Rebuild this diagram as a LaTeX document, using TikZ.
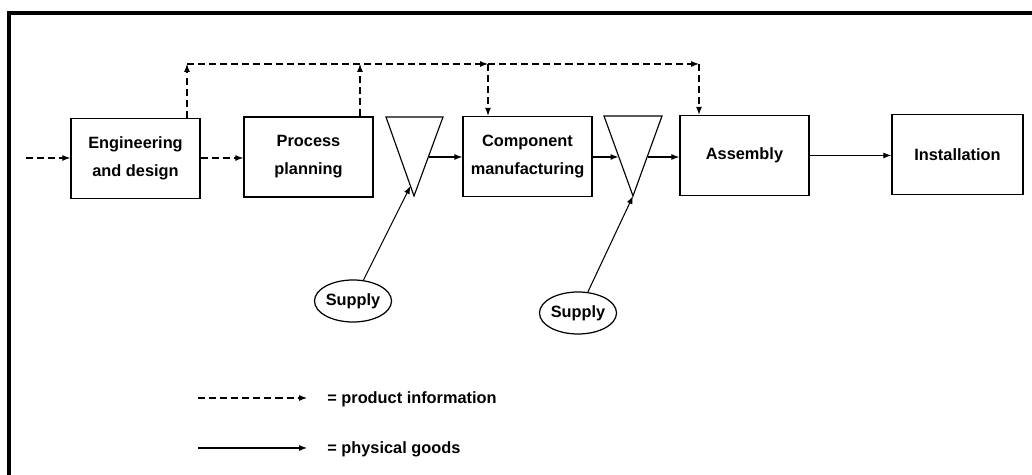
\documentclass[tikz,border=0pt]{standalone}
\usepackage{fontspec}
\setmainfont{Liberation Sans}
\usetikzlibrary{arrows.meta,shapes.geometric,calc}
\begin{document}
\begin{tikzpicture}[x=0.02cm,y=-0.02cm,
  lbl/.style={font=\fontsize{9.3}{16}\selectfont\bfseries},
  box/.style={draw, line width=0.85pt, inner sep=0pt, lbl, align=center, minimum width=2.58cm, minimum height=1.6cm},
  supplynode/.style={draw, ellipse, line width=0.7pt, inner sep=0pt, lbl, minimum width=1.54cm, minimum height=0.84cm},
  tri/.style={draw, line width=0.65pt},
  tip/.style={-{Latex[length=4.5pt,width=3.4pt]}},
  info/.style={line width=0.6pt, dash pattern=on 4pt off 2.3pt, tip},
  goods/.style={line width=0.6pt, tip},
]
\useasboundingbox (0,0) rectangle (1032,475);
% frame
\draw[line width=2.4pt] (9,475) -- (9,13) -- (1032,13);

% boxes
\node[box] (eng)  at (135.5,158.5) {Engineering\\and design};
\node[box] (proc) at (308.5,157)   {Process\\planning};
\node[box] (comp) at (527.5,156.5) {Component\\manufacturing};
\node[box] (assy) at (744.5,155.5) {Assembly};
\node[box, minimum width=2.62cm] (inst) at (957.5,154.5) {Installation};

% stock triangles
\coordinate (t1a) at (386,117); \coordinate (t1b) at (443,117); \coordinate (t1c) at (414,196);
\coordinate (t2a) at (604,116); \coordinate (t2b) at (662,116); \coordinate (t2c) at (633,196);
\draw[tri] (t1a) -- (t1b) -- (t1c) -- cycle;
\draw[tri] (t2a) -- (t2b) -- (t2c) -- cycle;
\coordinate (t1r) at (428.5,157);
\coordinate (t1l) at (410.5,186);
\coordinate (t2l) at (618.5,157);
\coordinate (t2r) at (647.5,157);

% supplies
\node[supplynode] (s1) at (353,301) {Supply};
\node[supplynode] (s2) at (578,313) {Supply};

% information flow
\coordinate (in) at (26,158);
\coordinate (j0) at (187,64);
\coordinate (j1) at (360,64);
\coordinate (j2) at (488,64);
\coordinate (j3) at (699,64);
\draw[info] (in) -- (in -| eng.west);
\draw[info] (eng.east |- in) -- (in -| proc.west);
\draw[info] (eng.north -| j0) -- (j0);
\draw[info] (proc.north -| j1) -- (j1);
\draw[info] (j0) -- (j2);
\draw[info] (j2) -- (j3);
\draw[info] (j2) -- (j2 |- comp.north);
\draw[info] (j3) -- (j3 |- assy.north);

% physical flow
\draw[goods] (t1r) -- (t1r -| comp.west);
\draw[goods] (comp.east |- t2l) -- (t2l);
\draw[goods] (t2r) -- (t2r -| assy.west);
\draw[goods] (assy.east) -- (assy.east -| inst.west);
\draw[goods] (s1) -- (t1l);
\draw[goods] (s2) -- (t2c);

% legend
\coordinate (la) at (198,398); \coordinate (lb) at (307,398);
\coordinate (lc) at (198,448); \coordinate (ld) at (307,448);
\draw[info] (la) -- (lb);
\draw[goods] (lc) -- (ld);
\node[lbl, anchor=west, inner sep=0pt] (lt1) at (327,399) {= product information};
\node[lbl, anchor=west, inner sep=0pt] (lt2) at (327,449) {= physical goods};
\end{tikzpicture}
\end{document}
